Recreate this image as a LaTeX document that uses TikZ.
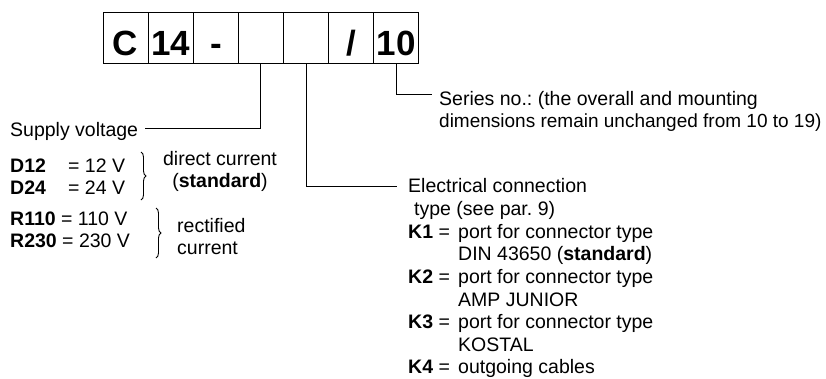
\documentclass[tikz,border=0pt]{standalone}
\usepackage{fontspec}
\setmainfont{Liberation Sans}
\usetikzlibrary{decorations.pathreplacing}
\frenchspacing
\begin{document}
\begin{tikzpicture}[x=1pt,y=-1pt,
  box/.style={draw, line width=1pt, minimum width=45.14pt, minimum height=51pt, inner sep=0pt},
  boxtxt/.style={anchor=base, inner sep=0pt, font=\fontsize{35}{35}\selectfont\bfseries},
  lbl/.style={anchor=base west, inner sep=0pt, font=\fontsize{19.5}{22.66}\selectfont\frenchspacing},
  conn/.style={line width=1pt},
  brc/.style={decorate, decoration={brace, amplitude=5pt}, line width=0.9pt}]
\useasboundingbox (0,0) rectangle (826,378);
% code boxes
\node[box] (b1) at (125.57,37.5) {};
\node[box] (b2) at (170.71,37.5) {};
\node[box] (b3) at (215.85,37.5) {};
\node[box] (b4) at (260.99,37.5) {};
\node[box] (b5) at (306.13,37.5) {};
\node[box] (b6) at (351.27,37.5) {};
\node[box] (b7) at (396.41,37.5) {};
\node[boxtxt] (t1) at (125.57,55) {C};
\node[boxtxt] (t2) at (170.71,55) {14};
\node[boxtxt] (t3) at (215.85,55) {-};
\node[boxtxt] (t6) at (351.27,55) {/};
\node[boxtxt] (t7) at (396.41,55) {10};
% labels
\node[lbl] (sv) at (10,136.7) {Supply voltage};
\node[lbl] (dg) at (10,172) {\begin{tabular}[t]{@{}l@{}}\fontsize{19.5}{20}\selectfont
  \makebox[58pt][l]{\textbf{D12}}= 12 V\\
  \makebox[58pt][l]{\textbf{D24}}= 24 V\end{tabular}};
\node[lbl] (rg) at (10,225) {\begin{tabular}[t]{@{}l@{}}\fontsize{19.5}{21}\selectfont
  \textbf{R110} = 110 V\\
  \textbf{R230} = 230 V\end{tabular}};
\node[lbl, anchor=base] (dc) at (220,165) {\begin{tabular}[t]{@{}c@{}}\fontsize{19.5}{22}\selectfont
  direct current\\(\textbf{standard})\end{tabular}};
\node[lbl] (rc) at (177,232) {\begin{tabular}[t]{@{}l@{}}\fontsize{19.5}{21}\selectfont
  rectified\\current\end{tabular}};
\node[lbl] (sn) at (439,105) {\begin{tabular}[t]{@{}l@{}}
  Series no.: (the overall and mounting\\
  {\fontsize{19}{22.66}\selectfont dimensions remain unchanged from 10 to 19)}\end{tabular}};
\node[lbl] (ec) at (408,192.7) {\begin{tabular}[t]{@{}l@{}}
  Electrical connection\\
  \hspace{6pt}type (see par. 9)\\
  \makebox[50pt][l]{\textbf{K1} =}port for connector type\\
  \hspace{50pt}DIN 43650 (\textbf{standard})\\
  \makebox[50pt][l]{\textbf{K2} =}port for connector type\\
  \hspace{50pt}AMP JUNIOR\\
  \makebox[50pt][l]{\textbf{K3} =}port for connector type\\
  \hspace{50pt}KOSTAL\\
  \makebox[50pt][l]{\textbf{K4} =}outgoing cables\end{tabular}};
% braces
\draw[brc] (141,152) -- (141,200);
\draw[brc] (156,208) -- (156,258);
% connector ends
\coordinate (svc) at (145,128);
\coordinate (ecc) at (397,186);
\coordinate (snc) at (432,94);
\draw[conn] (b4.south) |- (svc);
\draw[conn] (b5.south) |- (ecc);
\draw[conn] (b7.south) |- (snc);
\end{tikzpicture}
\end{document}
